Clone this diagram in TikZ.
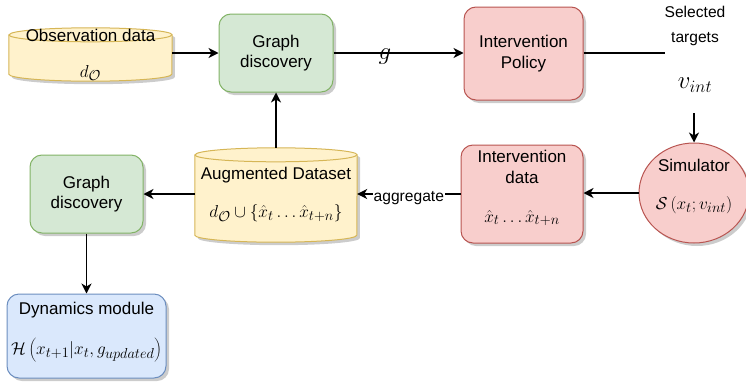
\documentclass[tikz,border=0pt]{standalone}
\usepackage[no-math]{fontspec}
\setmainfont{Liberation Sans}
\usetikzlibrary{arrows.meta,shapes.geometric,shadows,calc}

\definecolor{grfill}{HTML}{D5E8D4}
\definecolor{grline}{HTML}{82B366}
\definecolor{rdfill}{HTML}{F8CECC}
\definecolor{rdline}{HTML}{B85450}
\definecolor{ylfill}{HTML}{FFF2CC}
\definecolor{ylline}{HTML}{D6B656}
\definecolor{blfill}{HTML}{DAE8FC}
\definecolor{blline}{HTML}{6C8EBF}

% cylinder drawn around a named (invisible) rectangle node
% #1 node name, #2 half width, #3 fill, #4 stroke
\newcommand\drawcylinder[4]{%
  \path[fill=black, opacity=0.2, transform canvas={xshift=3pt,yshift=-3pt}]
    ($(#1.north west)+(0,7)$) -- ($(#1.south west)+(0,-7)$)
    arc[start angle=180, end angle=360, x radius=#2pt, y radius=7pt]
    -- ($(#1.north east)+(0,7)$)
    arc[start angle=0, end angle=180, x radius=#2pt, y radius=7pt] -- cycle;
  \path[fill=#3, draw=#4, line width=1pt]
    ($(#1.north west)+(0,7)$) -- ($(#1.south west)+(0,-7)$)
    arc[start angle=180, end angle=360, x radius=#2pt, y radius=7pt]
    -- ($(#1.north east)+(0,7)$)
    arc[start angle=0, end angle=180, x radius=#2pt, y radius=7pt] -- cycle;
  \draw[#4, line width=1pt] ($(#1.north west)+(0,7)$)
    arc[start angle=180, end angle=360, x radius=#2pt, y radius=7pt];
}

\begin{document}
\begin{tikzpicture}[x=1pt, y=-1pt,
  shade/.style={drop shadow={shadow xshift=3pt, shadow yshift=-3pt, opacity=0.2, fill=black}},
  box/.style={rectangle, rounded corners=12pt, line width=1pt, inner sep=0pt, shade,
    font=\fontsize{17}{20.4}\selectfont, align=center},
  gbox/.style={box, fill=grfill, draw=grline},
  rbox/.style={box, fill=rdfill, draw=rdline},
  bbox/.style={box, fill=blfill, draw=blline},
  holder/.style={rectangle, inner sep=0pt},
  txt/.style={font=\fontsize{17}{20.4}\selectfont, align=center, inner sep=0pt},
  lbl/.style={font=\fontsize{15.6}{25}\selectfont, align=center, inner sep=0pt},
  mth/.style={font=\fontsize{19}{23}\selectfont, inner sep=0pt},
  bigm/.style={font=\fontsize{26}{30}\selectfont, inner sep=0pt},
  arr/.style={-{Stealth[length=10pt, width=10pt, inset=3pt]}, line width=1.3pt},
  plain/.style={line width=1.3pt}]

\useasboundingbox (0,0) rectangle (746,383);

% top row
\node[holder, minimum width=163pt, minimum height=53pt] (obs) at (90.5,54.5) {};
\drawcylinder{obs}{81.5}{ylfill}{ylline}
\node[txt] (obst) at (90.5,35) {Observation data};
\node[mth] (obsm) at (90.5,73) {$d_{\mathcal{O}}$};

\node[gbox, minimum width=114pt, minimum height=78pt] (gd1) at (276,53) {Graph\\discovery};
\node[rbox, minimum width=119pt, minimum height=93pt] (ip) at (523.5,53.5) {Intervention\\Policy};

\node[lbl] (sel) at (695,25.5) {Selected\\targets};
\node[bigm] (vint) at (695,85) {$v_{int}$};
\coordinate (selend) at (665,53);
\coordinate (vtail) at (694,113);

% middle row
\node[ellipse, minimum width=110pt, minimum height=100pt, inner sep=0pt,
  fill=rdfill, draw=rdline, line width=1pt, shade] (sim) at (694,193) {};
\node[txt] (simt) at (694,165) {Simulator};
\node[mth] (simm) at (694,205) {$\mathcal{S}\left(x_t;v_{int}\right)$};

\node[rbox, minimum width=122pt, minimum height=98pt] (id) at (522,194) {};
\node[txt] (idt) at (522,167) {Intervention\\data};
\node[mth] (idm) at (522,218) {$\hat{x}_t\ldots\hat{x}_{t+n}$};

\node[holder, minimum width=162pt, minimum height=94pt] (aug) at (276,195) {};
\drawcylinder{aug}{81}{ylfill}{ylline}
\node[txt] (augt) at (276,175) {Augmented Dataset};
\node[mth] (augm) at (276,213) {$d_{\mathcal{O}}\cup\left\{\hat{x}_t\ldots\hat{x}_{t+n}\right\}$};

\node[gbox, minimum width=113pt, minimum height=78pt] (gd2) at (86.5,194) {Graph\\discovery};

% bottom
\node[bbox, minimum width=159pt, minimum height=84pt] (dyn) at (86.5,336) {};
\node[txt] (dynt) at (86.5,310) {Dynamics module};
\node[mth] (dynm) at (86.5,350) {$\mathcal{H}\left(x_{t+1}|x_t,g_{updated}\right)$};

% connectors
\draw[arr] (gd1.west -| obs.east) -- (gd1.west);
\draw[arr] (gd1.east) -- (gd1.east -| ip.west);
\node[bigm] (glbl) at (385,57) {$g$};
\draw[plain] (ip.east |- selend) -- (selend);
\draw[arr] (vtail) -- (sim.north);
\draw[arr] (sim.west) -- (sim.west -| id.east);
\draw[arr] (id.west) -- (id.west -| aug.east)
  node[pos=0.5, lbl, fill=white, inner sep=1pt, yshift=-4pt] (agg) {aggregate};
\draw[arr] (aug.north) -- (gd1.south);
\draw[arr] (aug.west |- gd2.east) -- (gd2.east);
\draw[arr] (gd2.south) -- (dyn.north);
\end{tikzpicture}
\end{document}
